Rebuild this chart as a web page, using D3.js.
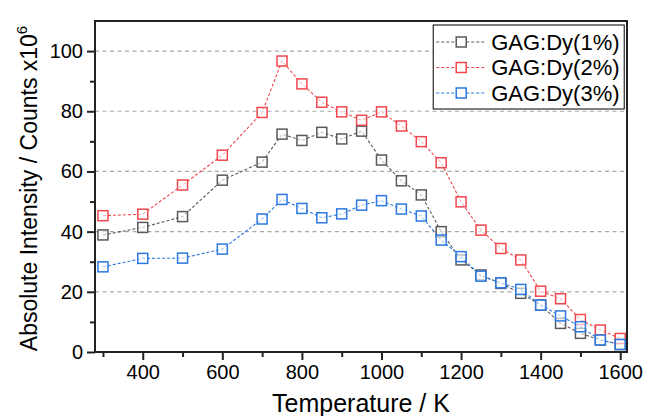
<!DOCTYPE html>
<html>
<head>
<meta charset="utf-8">
<script src="https://cdn.jsdelivr.net/npm/d3@7"></script>
<style>
  body { margin: 0; background: #fff; }
  svg text { font-family: "Liberation Sans", Arial, sans-serif; fill: #000; }
</style>
</head>
<body>
<div id="wrapper"></div>
<script>
// DATA
const temperatures = [300, 400, 500, 600, 700, 750, 800, 850, 900, 950, 1000, 1050,
    1100, 1150, 1200, 1250, 1300, 1350, 1400, 1450, 1500, 1550, 1600]

const dy1 = [38.9, 41.4, 45.0, 57.1, 63.1, 72.4, 70.3, 73.0, 70.8, 73.4, 63.8, 56.9,
    52.2, 40.0, 30.6, 25.6, 22.8, 19.5, 15.6, 9.5, 6.2, 4.0, 2.5]
const dy2 = [45.3, 45.8, 55.5, 65.4, 79.6, 96.7, 89.1, 83.0, 79.8, 77.0, 79.8, 75.1,
    69.9, 62.9, 49.9, 40.5, 34.4, 30.6, 20.2, 17.7, 10.8, 7.3, 4.5]
const dy3 = [28.3, 31.1, 31.2, 34.2, 44.2, 50.7, 47.7, 44.6, 45.9, 48.8, 50.3, 47.5,
    45.2, 37.2, 31.7, 25.2, 23.0, 20.8, 15.6, 12.0, 8.4, 4.0, 2.5]

const seriesNames = ["GAG:Dy(1%)", "GAG:Dy(2%)", "GAG:Dy(3%)"]
const seriesColors = ["#5a5a5a", "#f0474e", "#2a78e0"]

const xTicksMajor = [400, 600, 800, 1000, 1200, 1400, 1600]
const xTicksMinor = [300, 500, 700, 900, 1100, 1300, 1500]
const yTicksMajor = [0, 20, 40, 60, 80, 100]
const yTicksMinor = [10, 30, 50, 70, 90]

// DIMENSIONS
const dimensions = {
    width: 646,
    height: 416,
    margin: { top: 21, right: 19, bottom: 64, left: 95 }
}
dimensions.boundedWidth = dimensions.width - dimensions.margin.left - dimensions.margin.right
dimensions.boundedHeight = dimensions.height - dimensions.margin.top - dimensions.margin.bottom

const wrapper = d3.select('#wrapper')
    .append('svg')
    .attr('width', dimensions.width)
    .attr('height', dimensions.height)

const bounds = wrapper.append('g')
    .attr('transform', `translate(${dimensions.margin.left},${dimensions.margin.top})`)

// SCALES
const xScale = d3.scaleLinear()
    .domain([280, 1617])
    .range([0, dimensions.boundedWidth])

const yScale = d3.scaleLinear()
    .domain([0, 110])
    .range([dimensions.boundedHeight, 0])

// gridlines
bounds.append('g')
    .selectAll('line')
    .data(yTicksMajor.filter(d => d > 0))
    .join('line')
    .attr('x1', 0)
    .attr('x2', dimensions.boundedWidth)
    .attr('y1', d => yScale(d))
    .attr('y2', d => yScale(d))
    .attr('stroke', '#a8a8a8')
    .attr('stroke-width', 1.2)
    .attr('stroke-dasharray', '4,3.5')

// SERIES
const allSeries = [dy1, dy2, dy3].map((values, i) => ({
    name: seriesNames[i],
    color: seriesColors[i],
    points: values.map((v, j) => ({ t: temperatures[j], v }))
}))

const lineGenerator = d3.line()
    .x(d => xScale(d.t))
    .y(d => yScale(d.v))

const sq = 10

allSeries.forEach(s => {
    const g = bounds.append('g')
    g.append('path')
        .attr('d', lineGenerator(s.points))
        .attr('fill', 'none')
        .attr('stroke', s.color)
        .attr('stroke-width', 1.1)
        .attr('stroke-dasharray', '3,2')
    g.selectAll('rect')
        .data(s.points)
        .join('rect')
        .attr('x', d => xScale(d.t) - sq / 2)
        .attr('y', d => yScale(d.v) - sq / 2)
        .attr('width', sq)
        .attr('height', sq)
        .attr('fill', '#fff')
        .attr('fill-opacity', 0.6)
        .attr('stroke', s.color)
        .attr('stroke-width', 1.5)
})

// AXES
const xAxis = d3.axisBottom(xScale)
    .tickValues(xTicksMajor)
    .tickFormat(d3.format('d'))
    .tickSize(8)
    .tickPadding(5)
const xAxisGroup = bounds.append('g')
    .attr('transform', `translate(0,${dimensions.boundedHeight})`)
    .call(xAxis)
xAxisGroup.selectAll('text').style('font-size', '20px')
    .style('font-family', '"Liberation Sans", Arial, sans-serif')

const xMinor = d3.axisBottom(xScale).tickValues(xTicksMinor).tickSize(5).tickFormat('')
bounds.append('g')
    .attr('transform', `translate(0,${dimensions.boundedHeight})`)
    .call(xMinor)

const yAxis = d3.axisLeft(yScale)
    .tickValues(yTicksMajor)
    .tickFormat(d3.format('d'))
    .tickSize(8)
    .tickPadding(4)
const yAxisGroup = bounds.append('g').call(yAxis)
yAxisGroup.selectAll('text').style('font-size', '20px')
    .style('font-family', '"Liberation Sans", Arial, sans-serif')

const yMinor = d3.axisLeft(yScale).tickValues(yTicksMinor).tickSize(5).tickFormat('')
bounds.append('g').call(yMinor)

bounds.selectAll('.domain').remove()
bounds.selectAll('.tick line').attr('stroke', '#222').attr('stroke-width', 2)

// frame
bounds.append('rect')
    .attr('width', dimensions.boundedWidth)
    .attr('height', dimensions.boundedHeight)
    .attr('fill', 'none')
    .attr('stroke', '#222')
    .attr('stroke-width', 2)

// axis titles
wrapper.append('text')
    .attr('x', dimensions.margin.left + dimensions.boundedWidth / 2)
    .attr('y', 412)
    .attr('text-anchor', 'middle')
    .style('font-size', '25px')
    .text('Temperature / K')

const yTitle = wrapper.append('text')
    .attr('transform', `translate(37,${dimensions.margin.top + dimensions.boundedHeight / 2 + 2}) rotate(-90)`)
    .attr('text-anchor', 'middle')
    .style('font-size', '23px')
yTitle.append('tspan').text('Absolute Intensity / Counts x10')
yTitle.append('tspan').attr('dy', -10).style('font-size', '15px').text('6')

// LEGEND
const legend = bounds.append('g')
    .attr('transform', `translate(${xScale(1130)},4)`)

legend.append('rect')
    .attr('width', 191)
    .attr('height', 84)
    .attr('fill', '#fff')
    .attr('stroke', '#000')
    .attr('stroke-width', 1)

allSeries.forEach((s, i) => {
    const row = legend.append('g').attr('transform', `translate(0,${17 + i * 25.5})`)
    row.append('line')
        .attr('x1', 3).attr('x2', 53)
        .attr('stroke', s.color)
        .attr('stroke-width', 1.1)
        .attr('stroke-dasharray', '3,2')
    row.append('rect')
        .attr('x', 28 - sq / 2).attr('y', -sq / 2)
        .attr('width', sq).attr('height', sq)
        .attr('fill', '#fff')
        .attr('stroke', s.color)
        .attr('stroke-width', 1.5)
    row.append('text')
        .attr('x', 58)
        .attr('dy', '0.36em')
        .style('font-size', '22px')
        .text(s.name)
})
</script>
</body>
</html>
